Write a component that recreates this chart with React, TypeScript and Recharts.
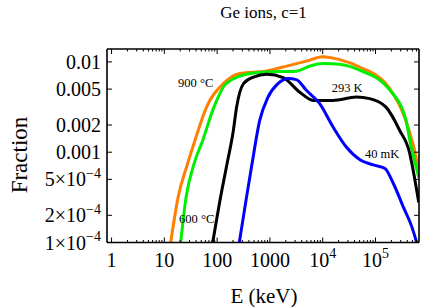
import React from "react";
import { LineChart, Line, XAxis, YAxis, ReferenceDot } from "recharts";

const FONT = "'Liberation Serif', 'Times New Roman', serif";

// Ge ions, c=1 : fraction vs energy (keV)
// 900 °C
const orangeE = [13.2, 18.2, 27.5, 38, 63, 131, 269, 871, 1780, 4900, 10000, 20900, 50100, 186000, 355000, 490000, 603000, 667000];
const orangeF = [1e-4, 3.16e-4, 7.43e-4, 1.35e-3, 3.16e-3, 5.75e-3, 7.43e-3, 7.94e-3, 8.79e-3, 0.0102, 0.0114, 0.0106, 8.79e-3, 5.06e-3, 2.45e-3, 1.35e-3, 8.1e-4, 5.25e-4];
// 600 °C
const greenE = [20.4, 25.8, 36.5, 53.3, 87, 148, 427, 850, 3160, 5620, 10000, 20900, 50100, 186000, 380000, 447000, 550000, 661000];
const greenF = [1e-4, 3.16e-4, 7.43e-4, 1.35e-3, 3.16e-3, 5.75e-3, 7.43e-3, 7.74e-3, 7.9e-3, 8.95e-3, 9.6e-3, 9.4e-3, 8.1e-3, 4.9e-3, 2.24e-3, 1.35e-3, 8.1e-4, 5.25e-4];
// 293 K
const blackE = [82.6, 116, 154, 203, 234, 316, 490, 871, 1780, 3630, 6610, 15700, 43700, 77600, 158000, 288000, 447000, 490000, 660000];
const blackF = [1e-4, 3.16e-4, 7.43e-4, 1.74e-3, 3.16e-3, 5.75e-3, 6.8e-3, 7.3e-3, 6.7e-3, 4.65e-3, 3.75e-3, 3.75e-3, 4.08e-3, 3.92e-3, 3.16e-3, 1.74e-3, 9.6e-4, 7.43e-4, 2.78e-4];
// 40 mK
const blueE = [263, 360, 458, 641, 920, 1420, 2200, 3160, 4900, 8770, 15700, 28000, 50800, 91200, 151000, 219000, 339000, 490000, 603000];
const blueF = [1e-4, 3.16e-4, 7.43e-4, 2.25e-3, 4.08e-3, 5.75e-3, 6.55e-3, 6.37e-3, 4.85e-3, 3.45e-3, 1.9e-3, 1.14e-3, 8.24e-4, 7.24e-4, 6.6e-4, 4.47e-4, 2.45e-4, 1.48e-4, 1e-4];

const xMajor = [1, 10, 100, 1000, 1e4, 1e5];
const xMajorLabels = ["1", "10", "100", "1000", "10^4", "10^5"];
const yMajor = [0.01, 0.005, 0.002, 0.001, 5e-4, 2e-4, 1e-4];
const yMajorLabels = ["0.01", "0.005", "0.002", "0.001", "5×10^−4", "2×10^−4", "1×10^−4"];

// curve annotations
const noteText = ["900 °C", "600 °C", "293 K", "40 mK"];
const noteE = [18.2, 19, 14800, 63100];
const noteF = [5.24e-3, 1.66e-4, 4.6e-3, 8.73e-4];

const X_DOMAIN = [0.82, 667000];
const Y_DOMAIN = [1e-4, 0.0139];

const xMinor: number[] = [];
for (const d of xMajor) {
  for (let k = 2; k <= 9; k++) if (d * k < X_DOMAIN[1]) xMinor.push(d * k);
}
const xTicks = [...xMajor, ...xMinor];

const zip = (es: number[], fs: number[]) => es.map((e, i) => ({ e, f: fs[i] }));
const orangeData = zip(orangeE, orangeF);
const greenData = zip(greenE, greenF);
const blackData = zip(blackE, blackF);
const blueData = zip(blueE, blueF);

function PowText({ text, x, y, anchor, size }: any) {
  const [base, exp] = String(text).split("^");
  return (
    <text x={x} y={y} textAnchor={anchor} fontFamily={FONT} fontSize={size} fill="#000">
      {base}
      {exp && (
        <tspan dy={-size * 0.42} fontSize={size * 0.7}>
          {exp}
        </tspan>
      )}
    </text>
  );
}

const XTick = (side: "bottom" | "top") => (props: any) => {
  const { x, y, payload } = props;
  const idx = xMajor.indexOf(payload.value);
  const len = idx >= 0 ? 5 : 2.5;
  const dir = side === "bottom" ? -1 : 1;
  return (
    <g>
      <line x1={x} x2={x} y1={y} y2={y + dir * len} stroke="#000" strokeWidth={1} />
      {side === "bottom" && idx >= 0 && (
        <PowText text={xMajorLabels[idx]} x={x} y={y + 24} anchor="middle" size={20} />
      )}
    </g>
  );
};

const YTick = (side: "left" | "right") => (props: any) => {
  const { x, y, payload } = props;
  const idx = yMajor.indexOf(payload.value);
  const dir = side === "left" ? 1 : -1;
  return (
    <g>
      <line x1={x} x2={x + dir * 5} y1={y} y2={y} stroke="#000" strokeWidth={1} />
      {side === "left" && idx >= 0 && (
        <PowText text={yMajorLabels[idx]} x={x - 6} y={y + 7} anchor="end" size={20} />
      )}
    </g>
  );
};

const frame = { stroke: "#000", strokeWidth: 1.6 };

export default function App() {
  return (
    <div style={{ position: "absolute", left: 0, top: 0, width: 426, height: 307, background: "#fff" }}>
      <LineChart width={426} height={307} margin={{ top: 0, right: 0, bottom: 0, left: 0 }}>
        <XAxis
          dataKey="e"
          type="number"
          scale="log"
          domain={X_DOMAIN}
          allowDataOverflow
          ticks={xTicks}
          interval={0}
          height={64.5}
          tickSize={0}
          tickMargin={0}
          tickLine={false}
          axisLine={frame}
          tick={XTick("bottom")}
          label={() => (
            <text x={264} y={303} textAnchor="middle" fontFamily={FONT} fontSize={21} fill="#000">
              E (keV)
            </text>
          )}
        />
        <XAxis
          xAxisId="top"
          orientation="top"
          dataKey="e"
          type="number"
          scale="log"
          domain={X_DOMAIN}
          allowDataOverflow
          ticks={xTicks}
          interval={0}
          height={49}
          tickSize={0}
          tickMargin={0}
          tickLine={false}
          axisLine={frame}
          tick={XTick("top")}
          label={() => (
            <text x={263.5} y={18} textAnchor="middle" fontFamily={FONT} fontSize={17} fill="#000">
              Ge ions, c=1
            </text>
          )}
        />
        <YAxis
          type="number"
          scale="log"
          domain={Y_DOMAIN}
          allowDataOverflow
          ticks={yMajor}
          interval={0}
          width={107}
          tickSize={0}
          tickMargin={0}
          tickLine={false}
          axisLine={frame}
          tick={YTick("left")}
          label={() => (
            <text
              x={26.5}
              y={155}
              transform="rotate(-90 26.5 155)"
              textAnchor="middle"
              fontFamily={FONT}
              fontSize={23}
              fill="#000"
            >
              Fraction
            </text>
          )}
        />
        <YAxis
          yAxisId="right"
          orientation="right"
          type="number"
          scale="log"
          domain={Y_DOMAIN}
          allowDataOverflow
          ticks={yMajor}
          interval={0}
          width={7}
          tickSize={0}
          tickMargin={0}
          tickLine={false}
          axisLine={frame}
          tick={YTick("right")}
        />
        <Line data={orangeData} dataKey="f" type="monotone" stroke="#ff7f00" strokeWidth={3} dot={false} isAnimationActive={false} />
        <Line data={greenData} dataKey="f" type="monotone" stroke="#00ee00" strokeWidth={3} dot={false} isAnimationActive={false} />
        <Line data={blackData} dataKey="f" type="monotone" stroke="#000000" strokeWidth={3} dot={false} isAnimationActive={false} />
        <Line data={blueData} dataKey="f" type="monotone" stroke="#0000ff" strokeWidth={3} dot={false} isAnimationActive={false} />
        {noteText.map((t, i) => (
          <ReferenceDot
            key={t}
            x={noteE[i]}
            y={noteF[i]}
            r={0}
            shape={(p: any) => (
              <text x={p.cx} y={p.cy} fontFamily={FONT} fontSize={12.5} fill="#000">
                {t}
              </text>
            )}
          />
        ))}
      </LineChart>
    </div>
  );
}
